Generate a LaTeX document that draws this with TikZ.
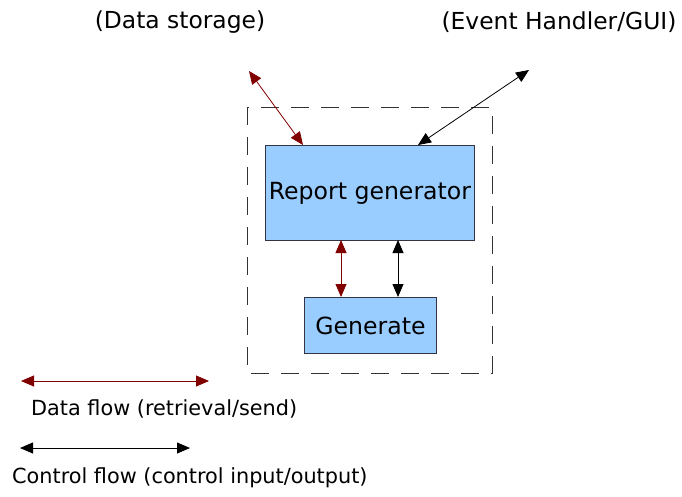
\documentclass[tikz,border=0pt]{standalone}
\usepackage{fontspec}
\setmainfont{DejaVu Sans}
\usetikzlibrary{arrows.meta}
\definecolor{boxblue}{HTML}{99CCFF}
\definecolor{boxedge}{HTML}{333344}
\definecolor{datared}{HTML}{800000}
\tikzset{
  module/.style={draw=boxedge, fill=boxblue, line width=0.9pt, inner sep=0pt},
  lbl/.style={inner sep=0pt},
  boxlbl/.style={lbl, font=\fontsize{23.6}{28}\selectfont},
  toplbl/.style={lbl, font=\fontsize{23.4}{28}\selectfont},
  legendlbl/.style={lbl, font=\fontsize{20.8}{25}\selectfont},
  dataflow/.style={draw=datared, line width=0.8pt, {Triangle[length=13pt,width=11pt,fill=datared]}-{Triangle[length=13pt,width=11pt,fill=datared]}},
  ctrlflow/.style={draw=black, line width=0.8pt, {Triangle[length=13pt,width=11pt]}-{Triangle[length=13pt,width=11pt]}},
  frame/.style={draw=black!80, line width=0.9pt, dash pattern=on 18pt off 12pt}
}
\begin{document}
\begin{tikzpicture}[x=1pt, y=-1pt]
  \useasboundingbox (0,0) rectangle (682,497);
  % component boundary
  \draw[frame] (247,107) rectangle (492,373);
  % modules
  \node[module, minimum width=209pt, minimum height=95pt, anchor=north west] (rg) at (265,145) {};
  \node[boxlbl] (rgt) at (rg.center) {Report generator};
  \node[module, minimum width=132pt, minimum height=56pt, anchor=north west] (gen) at (304,297) {};
  \node[boxlbl] (gent) at (gen.center) {Generate};
  % external endpoints
  \node[toplbl] (ds) at (180,22) {(Data storage)};
  \node[toplbl] (ev) at (559,22) {(Event Handler/GUI)};
  \coordinate (dsend) at (249,71);
  \coordinate (evend) at (529,70);
  \coordinate (rgds) at (303,145);
  \coordinate (rgev) at (418,145);
  % flows
  \draw[dataflow] (dsend) -- (rgds);
  \draw[ctrlflow] (evend) -- (rgev);
  \draw[dataflow] (341,240) -- (341,297);
  \draw[ctrlflow] (398,240) -- (398,297);
  % legend
  \coordinate (dl1) at (21,381);
  \coordinate (dl2) at (209,381);
  \coordinate (cl1) at (20,448);
  \coordinate (cl2) at (190,448);
  \draw[dataflow] (dl1) -- (dl2);
  \draw[ctrlflow] (cl1) -- (cl2);
  \node[legendlbl, anchor=west] (dlt) at (31,409) {Data flow (retrieval/send)};
  \node[legendlbl, anchor=west] (clt) at (12,478) {Control flow (control input/output)};
\end{tikzpicture}
\end{document}
